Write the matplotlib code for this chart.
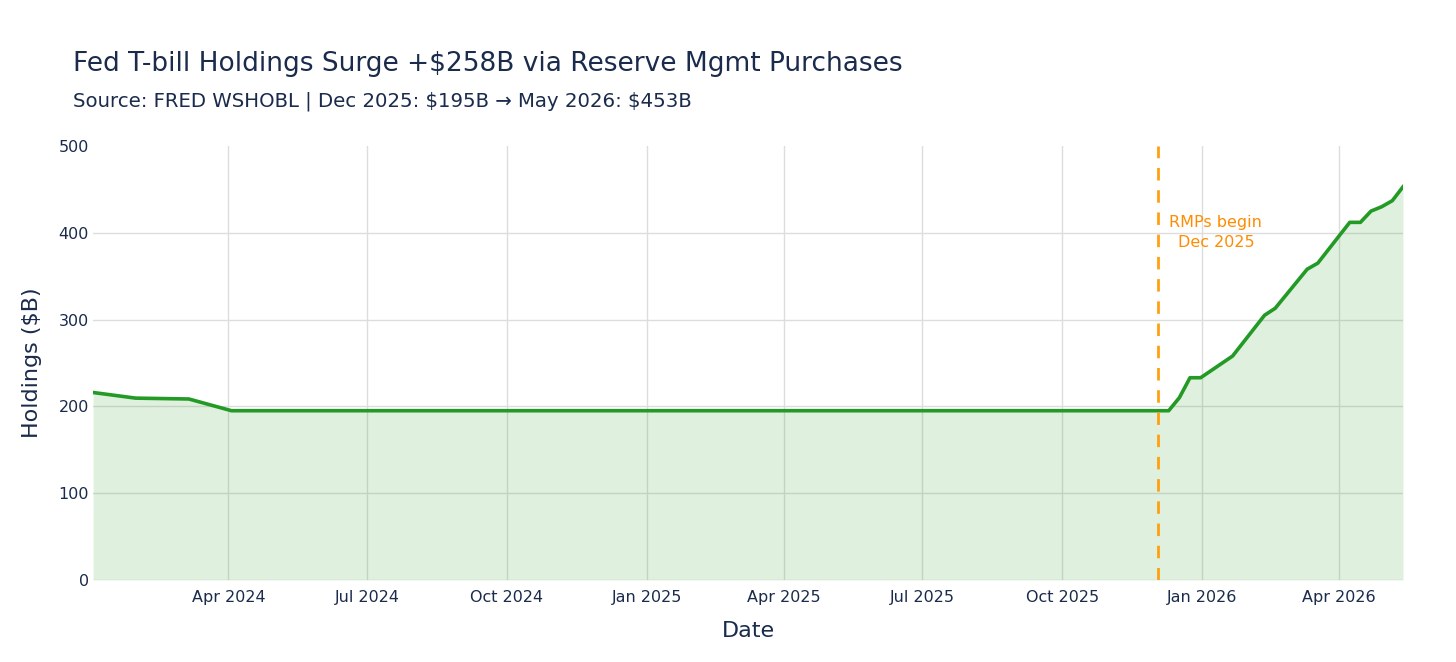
import matplotlib
matplotlib.use("Agg")
import matplotlib.pyplot as plt
import matplotlib.dates as mdates
import numpy as np
import pandas as pd

# weekly points (only where the line bends)
fechas = ["2024-01-03", "2024-01-31", "2024-03-06", "2024-04-03", "2025-12-03",
          "2025-12-10", "2025-12-17", "2025-12-24", "2025-12-31", "2026-01-21",
          "2026-02-11", "2026-02-18", "2026-03-11", "2026-03-18", "2026-04-08",
          "2026-04-15", "2026-04-22", "2026-04-29", "2026-05-06", "2026-05-13"]
valores = [216, 209.5, 208.5, 195, 195,
           195, 210, 233, 233, 258,
           305, 313, 358, 365, 412,
           412, 425, 430, 437, 453]

inicio_rmp = "2025-12-03"
ticks_x = ["2024-04-01", "2024-07-01", "2024-10-01", "2025-01-01", "2025-04-01",
           "2025-07-01", "2025-10-01", "2026-01-01", "2026-04-01"]
ticks_y = [0, 100, 200, 300, 400, 500]

fechas = pd.to_datetime(fechas)
texto = "#1a2b4c"

fig = plt.figure(figsize=(14.56, 6.62), dpi=100)
ax = fig.add_axes([0.0639, 0.1239, 0.8997, 0.6556])

ax.fill_between(fechas, valores, 0, color="#2ca02c", alpha=0.15, linewidth=0)
ax.plot(fechas, valores, color="#239a25", linewidth=2.6, zorder=3)

ax.axvline(pd.Timestamp(inicio_rmp), color="#ffa010", linewidth=2,
           linestyle=(0, (4.5, 3.5)), zorder=4)
ax.text(pd.Timestamp("2026-01-10"), 400, "RMPs begin\nDec 2025", color="#ff8c00",
        fontsize=11.5, ha="center", va="center", linespacing=1.45)

ax.set_xlim(pd.Timestamp("2024-01-03"), pd.Timestamp("2026-05-13"))
ax.set_ylim(0, 500)
ax.set_xticks(pd.to_datetime(ticks_x))
ax.xaxis.set_major_formatter(mdates.DateFormatter("%b %Y"))
ax.set_yticks(ticks_y)

for s in ax.spines.values():
    s.set_visible(False)
ax.grid(True, color="#dddddd", linewidth=1)
ax.yaxis.get_gridlines()[-1].set_visible(False)
ax.set_axisbelow(True)
ax.tick_params(length=0, labelsize=11.5, labelcolor=texto)
ax.tick_params(axis="x", pad=7)
ax.tick_params(axis="y", pad=3)

ax.set_xlabel("Date", fontsize=16, color=texto, labelpad=12)
ax.set_ylabel("Holdings ($B)", fontsize=16, color=texto, labelpad=12)

fig.text(73 / 1456, 1 - 64 / 662, "Fed T-bill Holdings Surge +\\$258B via Reserve Mgmt Purchases",
         fontsize=19, color=texto, va="center")
fig.text(73 / 1456, 1 - 101 / 662, "Source: FRED WSHOBL | Dec 2025: \\$195B \u2192 May 2026: \\$453B",
         fontsize=14.25, color=texto, va="center")

fig.savefig("out.png", dpi=100, facecolor="white")
